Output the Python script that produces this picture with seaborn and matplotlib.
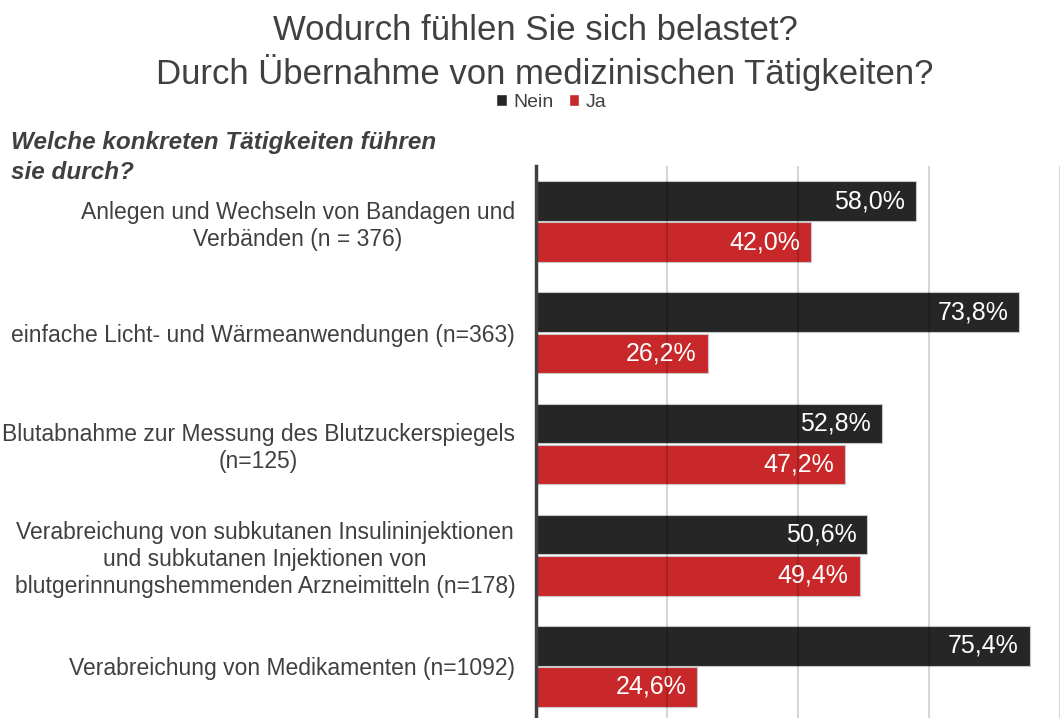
import pandas as pd
import matplotlib.pyplot as plt
import seaborn as sns
from matplotlib.patches import Patch

categories = [
    "Anlegen und Wechseln von Bandagen und\nVerbänden (n = 376)",
    "einfache Licht- und Wärmeanwendungen (n=363)",
    "Blutabnahme zur Messung des Blutzuckerspiegels\n(n=125)",
    "Verabreichung von subkutanen Insulininjektionen\nund subkutanen Injektionen von\nblutgerinnungshemmenden Arzneimitteln (n=178)",
    "Verabreichung von Medikamenten (n=1092)",
]
nein = [58.0, 73.8, 52.8, 50.6, 75.4]
ja = [42.0, 26.2, 47.2, 49.4, 24.6]
series = ["Nein", "Ja"]
colors = ["#262626", "#c8282a"]

FONT = ["Liberation Sans", "DejaVu Sans"]

df = pd.DataFrame({
    "Tätigkeit": categories * 2,
    "Anteil": nein + ja,
    "Antwort": ["Nein"] * len(nein) + ["Ja"] * len(ja),
})

sns.set_style("white")
plt.rcParams["font.family"] = FONT

fig = plt.figure(figsize=(10.6, 7.18), dpi=100)
ax = fig.add_axes([536 / 1060, 0, (1060 - 536) / 1060, (718 - 166) / 718])

sns.barplot(
    data=df, y="Tätigkeit", x="Anteil", hue="Antwort", orient="h",
    hue_order=series, palette=colors, saturation=1, width=0.74, gap=0.04,
    edgecolor="#c8c8c8", linewidth=0.8, legend=False, ax=ax,
)

# value labels inside the bar end
for container in ax.containers:
    for bar in container:
        w = bar.get_width()
        ax.annotate(
            f"{w:.1f}%".replace(".", ","),
            (w, bar.get_y() + bar.get_height() / 2),
            xytext=(-8, 0), textcoords="offset points",
            ha="right", va="center", color="white", fontsize=18,
        )

ax.set_xlim(0, (1060 - 536) / 6.62)
ax.set_ylim(-0.5 + 552 / 111.2, -0.5)
ax.set_xticks([20, 40, 60, 80])
ax.set_xticklabels([])
ax.tick_params(axis="x", length=0)
ax.tick_params(axis="y", length=0, pad=15)
ax.set_yticks(range(len(categories)))
ax.set_yticklabels(categories, multialignment="center", fontsize=16.5,
                   color="#404040")
ax.set_xlabel("")
ax.set_ylabel("")
ax.grid(axis="x", color="black", alpha=0.16, linewidth=1.5)
ax.set_axisbelow(False)
for s in ["top", "right", "bottom"]:
    ax.spines[s].set_visible(False)
ax.spines["left"].set_color("#404040")
ax.spines["left"].set_linewidth(2.5)
ax.spines["left"].set_zorder(5)

fig.text(0.505, 0.957, "Wodurch fühlen Sie sich belastet?", ha="center",
         va="center", fontsize=25, color="#404040")
fig.text(0.514, 0.899, "Durch Übernahme von medizinischen Tätigkeiten?",
         ha="center", va="center", fontsize=25, color="#404040")
fig.text(0.01, 0.781, "Welche konkreten Tätigkeiten führen\nsie durch?",
         ha="left", va="center", fontsize=17.5, color="#404040",
         style="italic", weight="bold", linespacing=1.4)

handles = [Patch(facecolor=c, label=s) for s, c in zip(series, colors)]
fig.legend(handles=handles, loc="center", bbox_to_anchor=(0.52, 0.857),
           ncol=2, frameon=False, handlelength=0.55,
           handleheight=0.55, handletextpad=0.3, columnspacing=0.8,
           labelcolor="#404040", prop={"size": 14})

fig.savefig("out.png", dpi=100)
